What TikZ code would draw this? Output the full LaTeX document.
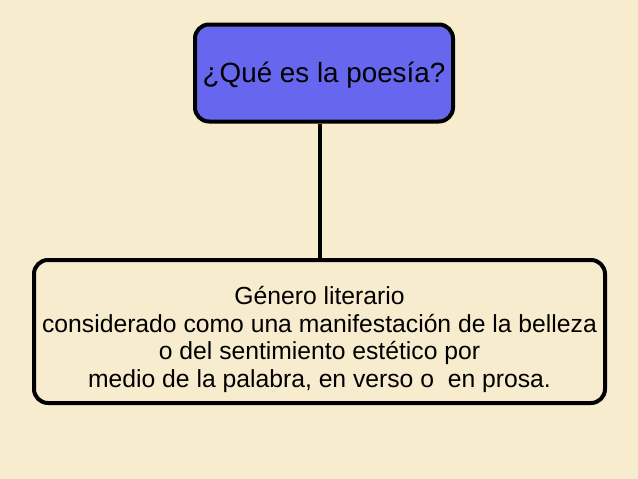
\documentclass[tikz,border=0pt]{standalone}
\usepackage{fontspec}
\setmainfont{Liberation Sans}
\usetikzlibrary{positioning}
\definecolor{fondo}{RGB}{248,236,206}
\definecolor{azul}{RGB}{102,102,238}

\begin{document}
\begin{tikzpicture}[ x=1pt, y=-1pt,
	caja/.style={draw, line width=4pt, rounded corners=14pt, align=center, inner sep=0pt} ]
	\fill[fondo] (0,0) rectangle (638,479);
	\useasboundingbox (0,0) rectangle (638,479);
	\node[caja, fill=azul, minimum width=258pt, minimum height=97pt,
		font=\fontsize{27.8}{32}\selectfont] (a) at (324,73)
		{\raisebox{0pt}[\dimexpr\height+4pt\relax][\depth]{¿Qué es la poesía?}};
	\node[caja, minimum width=571pt, minimum height=143pt,
		font=\fontsize{24.7}{27.5}\selectfont] (b) at (319.5,331.5)
		{\raisebox{0pt}[\dimexpr\height+18pt\relax][\depth]{\begin{tabular}{@{}c@{}}
		Género literario\\
		considerado como una manifestación de la belleza\\
		o del sentimiento estético por\\
		medio de la palabra, en verso o\ \ en prosa.
		\end{tabular}}};
	\draw[line width=4pt] (b.north) -- (b.north |- a.south);
\end{tikzpicture}
\end{document}
